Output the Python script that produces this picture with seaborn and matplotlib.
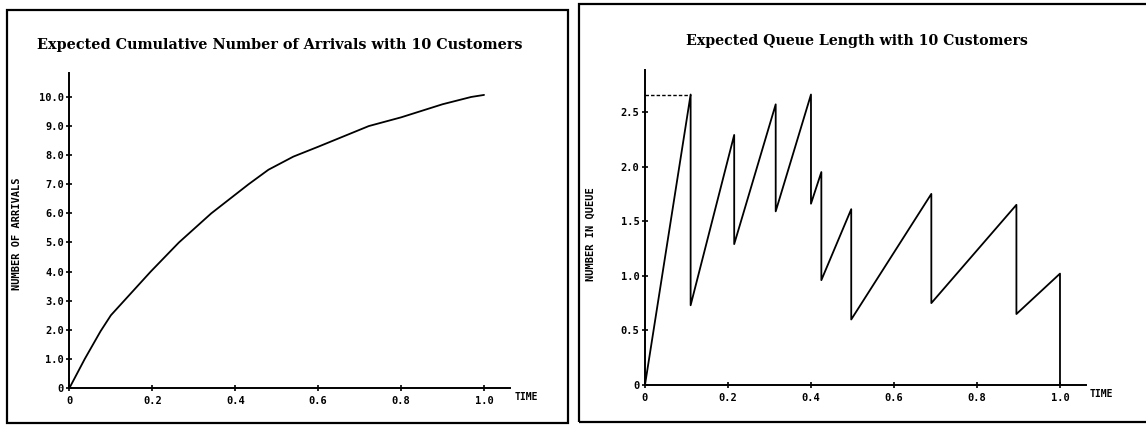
import matplotlib
matplotlib.use("Agg")
import matplotlib.pyplot as plt
import seaborn as sns
import pandas as pd
from matplotlib.patches import Rectangle

# ---- data ----
arr_time = [0, 0.037, 0.075, 0.1, 0.132, 0.196, 0.264, 0.342, 0.432, 0.48, 0.54, 0.6, 0.722, 0.8, 0.9, 0.969, 1.0]
arr_count = [0, 1.0, 1.95, 2.5, 3.0, 4.0, 5.0, 6.0, 7.0, 7.5, 7.95, 8.29, 9.0, 9.3, 9.75, 10.0, 10.07]

q_time = [0, 0.11, 0.11, 0.215, 0.215, 0.315, 0.315, 0.40, 0.40, 0.425, 0.425,
          0.497, 0.497, 0.69, 0.69, 0.895, 0.895, 1.0, 1.0]
q_len = [0, 2.66, 0.73, 2.29, 1.29, 2.57, 1.59, 2.66, 1.66, 1.95, 0.96,
         1.61, 0.60, 1.75, 0.75, 1.65, 0.65, 1.02, 0]
q_max = 2.66
q_max_time = 0.11

x_ticks = [0, 0.2, 0.4, 0.6, 0.8, 1.0]
x_labels = ["0", "0.2", "0.4", "0.6", "0.8", "1.0"]
arr_yticks = [0, 1, 2, 3, 4, 5, 6, 7, 8, 9, 10]
arr_ylabels = ["0", "1.0", "2.0", "3.0", "4.0", "5.0", "6.0", "7.0", "8.0", "9.0", "10.0"]
q_yticks = [0, 0.5, 1.0, 1.5, 2.0, 2.5]
q_ylabels = ["0", "0.5", "1.0", "1.5", "2.0", "2.5"]

title_left = "Expected Cumulative Number of Arrivals with 10 Customers"
title_right = "Expected Queue Length with 10 Customers"
ylabel_left = "NUMBER OF ARRIVALS"
ylabel_right = "NUMBER IN QUEUE"
xlabel = "TIME"

sns.set_theme(style="white")
plt.rcParams['font.family'] = ['DejaVu Sans']
plt.rcParams['text.color'] = 'black'
plt.rcParams['xtick.color'] = 'black'
plt.rcParams['ytick.color'] = 'black'

fig = plt.figure(figsize=(11.46, 4.26), dpi=100)
fig.patch.set_facecolor("white")

axL = fig.add_axes([0.0606, 0.0892, 0.3842, 0.7392])
axR = fig.add_axes([0.5628, 0.0962, 0.3846, 0.7399])

dfA = pd.DataFrame({"t": arr_time, "n": arr_count})
sns.lineplot(data=dfA, x="t", y="n", ax=axL, color="black", linewidth=1.3, sort=False, estimator=None)

dfQ = pd.DataFrame({"t": q_time, "q": q_len})
sns.lineplot(data=dfQ, x="t", y="q", ax=axR, color="black", linewidth=1.3, sort=False, estimator=None)
axR.plot([0, q_max_time], [q_max, q_max], color="black", linewidth=1.0, linestyle=(0, (2.5, 1.5)))

mono = "DejaVu Sans Mono"
for ax, yt, yl, ytop in [(axL, arr_yticks, arr_ylabels, 10.82),
                         (axR, q_yticks, q_ylabels, 2.886)]:
    ax.set_xlim(0, 1.062)
    ax.set_ylim(0, ytop)
    ax.set_xticks(x_ticks)
    ax.set_xticklabels(x_labels, fontfamily=mono, fontweight="bold", fontsize=7.5, color="black")
    ax.set_yticks(yt)
    ax.set_yticklabels(yl, fontfamily=mono, fontweight="bold", fontsize=7.5, color="black")
    for s in ["top", "right"]:
        ax.spines[s].set_visible(False)
    for s in ["left", "bottom"]:
        ax.spines[s].set_color("black")
        ax.spines[s].set_linewidth(1.4)
    ax.tick_params(axis="both", direction="inout", length=5, width=1.2, color="black",
                   pad=1.5, bottom=True, left=True)
    ax.tick_params(axis="x", pad=3)
    ax.set_xlabel("")
    ax.set_ylabel("")
    for line in ax.lines:
        line.set_clip_on(False)
    ax.set_facecolor("white")

# y labels and TIME labels
fig.text(17.5 / 1146, 1 - 234 / 426, ylabel_left, rotation=90, ha="center", va="center",
         fontfamily=mono, fontweight="bold", fontsize=7.5, color="black")
fig.text(590.5 / 1146, 1 - 234 / 426, ylabel_right, rotation=90, ha="center", va="center",
         fontfamily=mono, fontweight="bold", fontsize=7.5, color="black")
fig.text(515 / 1146, 1 - 397 / 426, xlabel, ha="left", va="center",
         fontfamily=mono, fontweight="bold", fontsize=7, color="black")
fig.text(1090 / 1146, 1 - 394 / 426, xlabel, ha="left", va="center",
         fontfamily=mono, fontweight="bold", fontsize=7, color="black")

# titles
fig.text(279.7 / 1146, 1 - 45.5 / 426, title_left, ha="center", va="center",
         fontfamily="DejaVu Serif", fontweight="bold", fontsize=10.4, color="black")
fig.text(857 / 1146, 1 - 41 / 426, title_right, ha="center", va="center",
         fontfamily="DejaVu Serif", fontweight="bold", fontsize=10.2, color="black")

# frames
fig.patches.append(Rectangle((7 / 1146, 3 / 426), (568 - 7) / 1146, (416 - 3) / 426,
                             transform=fig.transFigure, fill=False, edgecolor="black", linewidth=1.6))
fig.patches.append(Rectangle((579 / 1146, 4 / 426), (1150 - 579) / 1146, (422 - 4) / 426,
                             transform=fig.transFigure, fill=False, edgecolor="black", linewidth=1.6))

fig.savefig("out.png", dpi=100, facecolor="white")
